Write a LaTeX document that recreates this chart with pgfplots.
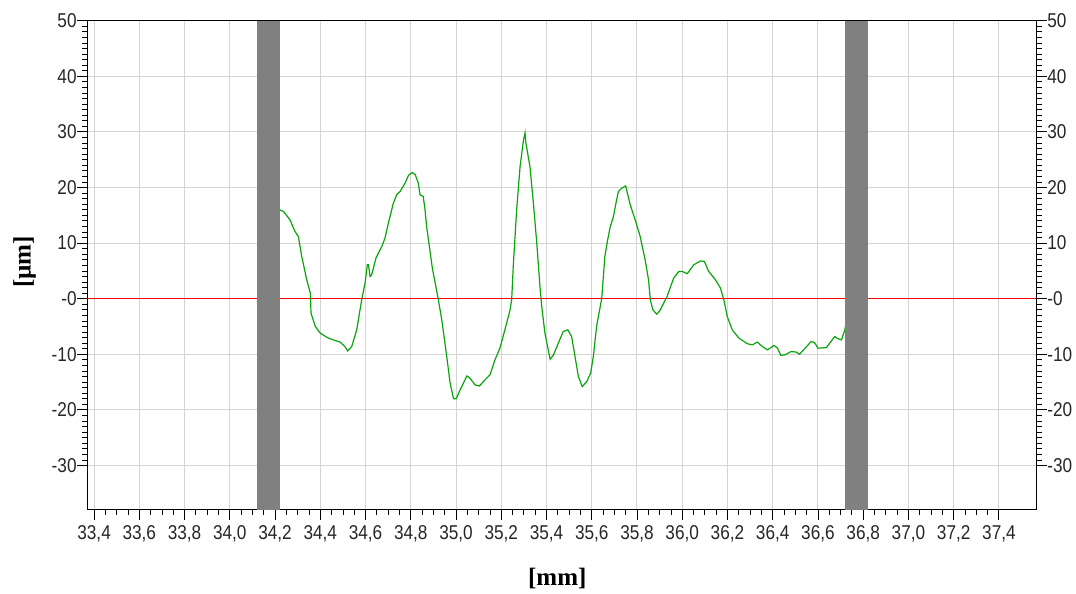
\documentclass[border=0pt]{standalone}
\usepackage{fontspec}
\setmainfont{Liberation Sans}[FakeStretch=0.86]
\newfontfamily\tnr{Liberation Serif}
\usepackage{pgfplots}
\pgfplotsset{compat=1.18}
\definecolor{curvegreen}{RGB}{10,165,10}
\definecolor{bargray}{RGB}{128,128,128}
\definecolor{gridgray}{RGB}{212,212,212}
\begin{document}
\begin{tikzpicture}
\pgfplotsset{
  common/.style={
    scale only axis, width=949.4pt, height=489.3pt,
    xmin=33.37, xmax=37.567, ymin=-38, ymax=50,
    ytick={-30,-20,-10,0,10,20,30,40,50},
    yticklabels={-30,-20,-10,-0,10,20,30,40,50},
    minor y tick num=9,
    tick align=outside,
    major tick length=10pt, minor tick length=5pt,
    tick style={black, line width=0.9pt},
    minor tick style={black, line width=0.8pt},
    /pgf/number format/assume math mode=true,
    tick label style={font=\fontsize{20}{22}\selectfont, text=black!85},
    yticklabel style={inner xsep=0.5pt},
  }
}
\begin{axis}[common, name=main,
  axis line style={black, line width=1pt},
  xtick={33.4,33.6,33.8,34.0,34.2,34.4,34.6,34.8,35.0,35.2,35.4,35.6,35.8,36.0,36.2,36.4,36.6,36.8,37.0,37.2,37.4},
  xticklabels={{33,4},{33,6},{33,8},{34,0},{34,2},{34,4},{34,6},{34,8},{35,0},{35,2},{35,4},{35,6},{35,8},{36,0},{36,2},{36,4},{36,6},{36,8},{37,0},{37,2},{37,4}},
  minor x tick num=3,
  xtick pos=bottom, ytick pos=left,
  xticklabel style={inner ysep=2pt, yshift=-3pt},
  grid=major,
  major grid style={gridgray, line width=1pt},
  xlabel={\tnr\bfseries [mm]},
  x label style={at={(axis description cs:0.495,0)}, anchor=center, yshift=-68pt, font=\fontsize{25}{28}\selectfont},
]
\addplot[red, line width=1.3pt] coordinates {(33.37,0) (37.567,0)};
\addplot[curvegreen, line width=1.2pt] coordinates {
(34.219,16.0) (34.237,15.7) (34.266,14.2) (34.288,12.1) (34.303,11.2) (34.318,7.6)
(34.340,3.4) (34.356,1.0) (34.359,-2.6) (34.378,-5.0) (34.400,-6.2) (34.436,-7.1)
(34.487,-7.8) (34.509,-8.6) (34.521,-9.4) (34.539,-8.6) (34.561,-5.6) (34.583,-0.2)
(34.598,2.8) (34.608,6.1) (34.613,6.1) (34.620,4.0) (34.627,4.3) (34.646,7.3)
(34.672,9.4) (34.686,10.9) (34.701,13.6) (34.723,17.2) (34.738,18.7) (34.753,19.3)
(34.775,20.8) (34.790,22.2) (34.807,22.7) (34.820,22.3) (34.833,20.8) (34.841,18.7)
(34.855,18.4) (34.863,16.0) (34.870,13.0) (34.895,5.6) (34.922,-0.2) (34.937,-3.8)
(34.959,-10.4) (34.974,-15.2) (34.989,-18.0) (35.001,-18.0) (35.018,-16.4) (35.048,-13.9)
(35.062,-14.3) (35.084,-15.5) (35.103,-15.7) (35.128,-14.6) (35.150,-13.7) (35.172,-11.0)
(35.194,-8.9) (35.216,-5.6) (35.239,-2.0) (35.246,-0.2) (35.253,5.8) (35.268,16.0)
(35.283,23.7) (35.298,28.5) (35.305,29.8) (35.309,28.0) (35.327,23.7) (35.342,17.2)
(35.357,10.0) (35.371,2.2) (35.379,-1.4) (35.393,-6.2) (35.416,-10.9) (35.431,-10.1)
(35.452,-8.0) (35.474,-5.9) (35.494,-5.6) (35.511,-6.8) (35.526,-10.4) (35.541,-14.0)
(35.558,-15.8) (35.578,-14.9) (35.595,-13.4) (35.607,-10.4) (35.622,-4.8) (35.644,0.0)
(35.658,7.6) (35.670,10.5) (35.681,12.8) (35.696,14.8) (35.710,17.8) (35.718,19.3)
(35.733,19.9) (35.750,20.3) (35.770,16.9) (35.792,14.2) (35.814,11.2) (35.836,7.0)
(35.851,3.4) (35.859,-0.2) (35.870,-2.0) (35.888,-2.8) (35.903,-2.0) (35.933,0.4)
(35.962,3.7) (35.985,4.9) (36.000,4.9) (36.022,4.5) (36.051,6.1) (36.081,6.8)
(36.098,6.7) (36.117,4.9) (36.147,3.4) (36.169,1.9) (36.184,-0.2) (36.199,-3.2)
(36.221,-5.6) (36.251,-7.1) (36.288,-8.1) (36.310,-8.3) (36.332,-7.8) (36.354,-8.6)
(36.377,-9.2) (36.406,-8.4) (36.421,-8.9) (36.436,-10.2) (36.454,-10.1) (36.481,-9.5)
(36.504,-9.6) (36.518,-10.0) (36.541,-9.0) (36.570,-7.7) (36.585,-7.9) (36.600,-8.9)
(36.637,-8.8) (36.674,-6.8) (36.689,-7.2) (36.704,-7.4) (36.719,-5.6) (36.726,-3.8)
};
\addplot[fill=bargray, draw=none] coordinates {(34.12,-38) (34.22,-38) (34.22,50) (34.12,50)} -- cycle;
\addplot[fill=bargray, draw=none] coordinates {(36.72,-38) (36.822,-38) (36.822,50) (36.72,50)} -- cycle;
\end{axis}
\begin{axis}[common,
  axis x line=none, axis y line*=right,
  y axis line style={black, line width=1pt},
  yticklabel pos=right,
]
\end{axis}
\node[rotate=90, anchor=center, font=\fontsize{25}{28}\selectfont\tnr\bfseries] at ([xshift=-62.6pt, yshift=3.4pt]main.west) {[µm]};
\pgfresetboundingbox
\path (-87.3pt,-84pt) rectangle (988.7pt,510pt);
\end{tikzpicture}
\end{document}
